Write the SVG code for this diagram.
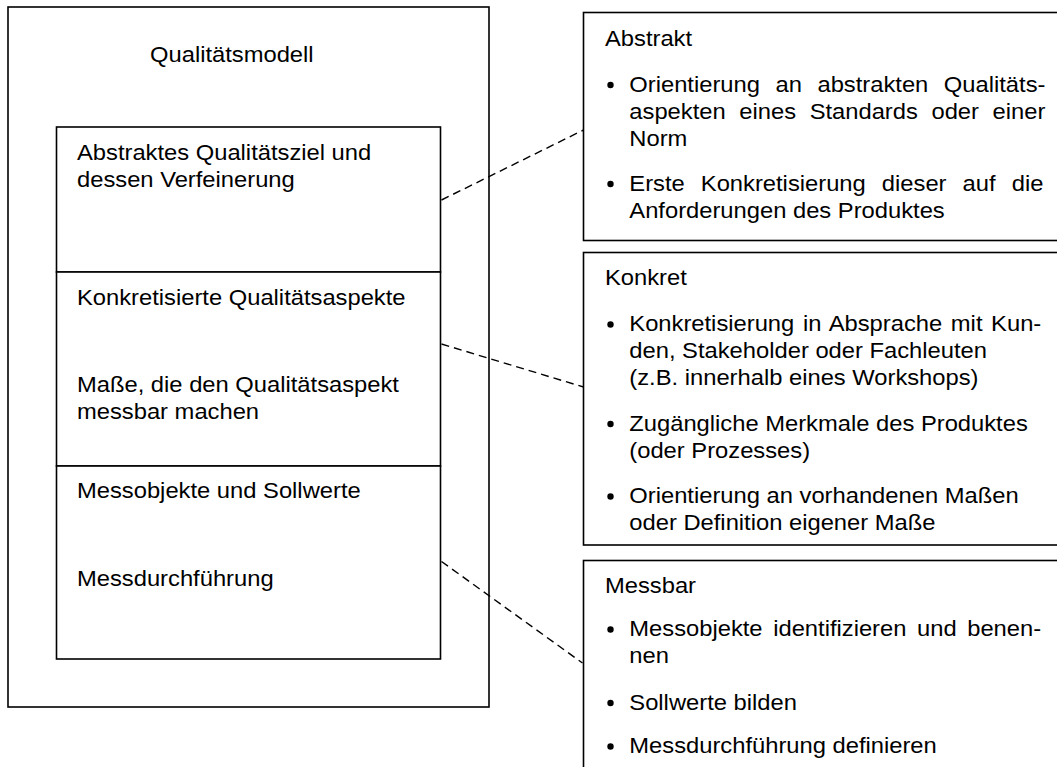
<svg xmlns="http://www.w3.org/2000/svg" width="1057" height="767" viewBox="0 0 1057 767">
  <style>
    .box { fill: #fff; stroke: #000; stroke-width: 1.6; }
    .link { fill: none; stroke: #000; stroke-width: 1.4; stroke-dasharray: 8 5; }
    text { font-family: "Liberation Sans", Arial, sans-serif; font-size: 22px; fill: #000; }
    .dot { fill: #000; }
  </style>
  <defs>
    <clipPath id="clipMessbar">
      <rect x="580" y="555" width="480" height="205"/>
    </clipPath>
  </defs>
  <rect width="1057" height="767" fill="#fff"/>

  <!-- outer model frame -->
  <g id="qualitaetsmodell">
    <rect class="box" x="8" y="7" width="481" height="700"/>
    <text transform="scale(1.08 1)" x="138.9" y="62">Qualitätsmodell</text>
  </g>

  <g id="ebene-abstrakt">
    <rect class="box" x="56.5" y="127" width="384" height="145"/>
    <text transform="scale(1.08 1)" x="71.3" y="160">Abstraktes Qualitätsziel und</text>
    <text transform="scale(1.08 1)" x="71.3" y="187">dessen Verfeinerung</text>
  </g>

  <g id="ebene-konkret">
    <rect class="box" x="56.5" y="272" width="384" height="194"/>
    <text transform="scale(1.08 1)" x="71.3" y="305">Konkretisierte Qualitätsaspekte</text>
    <text transform="scale(1.08 1)" x="71.3" y="392">Maße, die den Qualitätsaspekt</text>
    <text transform="scale(1.08 1)" x="71.3" y="419">messbar machen</text>
  </g>

  <g id="ebene-messbar">
    <rect class="box" x="56.5" y="466" width="384" height="193"/>
    <text transform="scale(1.08 1)" x="71.3" y="498.5">Messobjekte und Sollwerte</text>
    <text transform="scale(1.08 1)" x="71.3" y="586">Messdurchführung</text>
  </g>

  <!-- dashed connectors -->
  <g id="connectors">
    <line class="link" x1="441.5" y1="200" x2="583.5" y2="130"/>
    <line class="link" x1="441.5" y1="344" x2="583.5" y2="387"/>
    <line class="link" x1="441.5" y1="561.5" x2="582.5" y2="663"/>
  </g>

  <g id="erklaerung-abstrakt">
    <rect class="box" x="583.5" y="12.5" width="480" height="228"/>
    <text transform="scale(1.08 1)" x="560.2" y="46">Abstrakt</text>
    <circle class="dot" cx="610.5" cy="85" r="3.2"/>
    <text transform="scale(1.08 1)" x="582.7" y="92" word-spacing="8.3">Orientierung an abstrakten Qualitäts-</text>
    <text transform="scale(1.08 1)" x="582.7" y="119" word-spacing="6.5">aspekten eines Standards oder einer</text>
    <text transform="scale(1.08 1)" x="582.7" y="146">Norm</text>
    <circle class="dot" cx="610.5" cy="184" r="3.2"/>
    <text transform="scale(1.08 1)" x="582.7" y="191" word-spacing="8.8">Erste Konkretisierung dieser auf die</text>
    <text transform="scale(1.08 1)" x="582.7" y="218">Anforderungen des Produktes</text>
  </g>

  <g id="erklaerung-konkret">
    <rect class="box" x="583.5" y="252.5" width="480" height="292.5"/>
    <text transform="scale(1.08 1)" x="560.2" y="285">Konkret</text>
    <circle class="dot" cx="610.5" cy="324.5" r="3.2"/>
    <text transform="scale(1.08 1)" x="582.7" y="331.5" word-spacing="1.9">Konkretisierung in Absprache mit Kun-</text>
    <text transform="scale(1.08 1)" x="582.7" y="358.5">den, Stakeholder oder Fachleuten</text>
    <text transform="scale(1.08 1)" x="582.7" y="385.5">(z.B. innerhalb eines Workshops)</text>
    <circle class="dot" cx="610.5" cy="424" r="3.2"/>
    <text transform="scale(1.08 1)" x="582.7" y="431">Zugängliche Merkmale des Produktes</text>
    <text transform="scale(1.08 1)" x="582.7" y="458">(oder Prozesses)</text>
    <circle class="dot" cx="610.5" cy="496.5" r="3.2"/>
    <text transform="scale(1.08 1)" x="582.7" y="503.5">Orientierung an vorhandenen Maßen</text>
    <text transform="scale(1.08 1)" x="582.7" y="530">oder Definition eigener Maße</text>
  </g>

  <g id="erklaerung-messbar">
    <rect class="box" x="583.5" y="560.5" width="480" height="220"/>
    <g clip-path="url(#clipMessbar)">
      <text transform="scale(1.08 1)" x="560.2" y="593">Messbar</text>
      <circle class="dot" cx="610.5" cy="629.5" r="3.2"/>
      <text transform="scale(1.08 1)" x="582.7" y="636.5" word-spacing="3.7">Messobjekte identifizieren und benen-</text>
      <text transform="scale(1.08 1)" x="582.7" y="663.5">nen</text>
      <circle class="dot" cx="610.5" cy="703" r="3.2"/>
      <text transform="scale(1.08 1)" x="582.7" y="710">Sollwerte bilden</text>
      <circle class="dot" cx="610.5" cy="746.5" r="3.2"/>
      <text transform="scale(1.08 1)" x="582.7" y="753.5">Messdurchführung definieren</text>
    </g>
  </g>
</svg>
